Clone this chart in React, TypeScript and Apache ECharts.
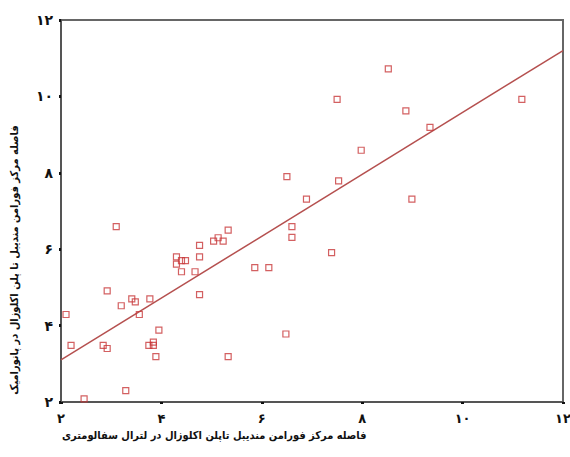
import React, { useEffect, useRef } from "react";
import * as echarts from "echarts";

const xValues = [2.10, 2.20, 2.46, 2.92, 2.84, 2.92, 3.10, 3.20, 3.29, 3.41, 3.48, 3.56, 3.77, 3.75, 3.84, 3.84, 3.89, 3.95, 4.30, 4.30, 4.40, 4.40, 4.48, 4.67, 4.76, 4.76, 4.76, 5.04, 5.13, 5.23, 5.33, 5.33, 5.86, 6.14, 6.48, 6.60, 6.60, 7.39, 6.50, 6.89, 7.53, 7.98, 7.50, 8.52, 8.87, 8.99, 9.35, 11.18];
const yValues = [4.29, 3.48, 2.08, 4.91, 3.48, 3.40, 6.59, 4.52, 2.30, 4.70, 4.62, 4.29, 4.70, 3.48, 3.57, 3.48, 3.19, 3.88, 5.80, 5.61, 5.41, 5.70, 5.70, 5.41, 6.10, 5.80, 4.81, 6.21, 6.30, 6.21, 6.50, 3.19, 5.52, 5.52, 3.78, 6.59, 6.31, 5.91, 7.90, 7.31, 7.79, 8.59, 9.92, 10.72, 9.62, 7.31, 9.19, 9.92];
const fitX = [2, 12];
const fitY = [3.1, 11.2];
const tickLabels: Record<number, string> = { 2: "۲", 4: "۴", 6: "۶", 8: "۸", 10: "۱۰", 12: "۱۲" };
const xTitle = "فاصله مرکز فورامن مندیبل تاپلن اکلوزال در لترال سفالومتری";
const yTitle = "فاصله مرکز فورامن مندیبل تا پلن اکلوزال در پانورامیک";

export default function App() {
  const ref = useRef<HTMLDivElement>(null);
  useEffect(() => {
    if (!ref.current) return;
    const chart = echarts.init(ref.current, null, { renderer: "svg" });
    const font = "'DejaVu Sans', 'Noto Sans', sans-serif";
    const titleFont = "'DejaVu Sans Condensed', 'DejaVu Sans', sans-serif";
    const axisCommon = {
      type: "value" as const,
      min: 2,
      max: 12,
      interval: 2,
      splitLine: { show: false },
      axisLine: { show: true, lineStyle: { color: "#555", width: 2 } },
      axisTick: { show: true, length: 2, lineStyle: { color: "#111", width: 3 } },
      axisLabel: {
        color: "#111",
        fontSize: 14,
        fontWeight: "bold" as const,
        fontFamily: font,
        formatter: (v: number) => tickLabels[v] ?? "",
      },
    };
    chart.setOption({
      animation: false,
      backgroundColor: "#fff",
      grid: {
        left: 61,
        right: 7,
        top: 20,
        bottom: 55,
        show: true,
        borderColor: "#666",
        borderWidth: 2,
        outerBoundsMode: "none",
        containLabel: false,
      },
      xAxis: { ...axisCommon, axisLabel: { ...axisCommon.axisLabel, fontSize: 13, margin: 10 } },
      yAxis: { ...axisCommon, axisLabel: { ...axisCommon.axisLabel, margin: 8 } },
      graphic: [
        {
          type: "text",
          left: 62,
          top: 430,
          style: { text: xTitle, fontSize: 11, fontWeight: "bold", fontFamily: titleFont, fill: "#111" },
        },
        {
          type: "text",
          x: 14,
          y: 260,
          rotation: Math.PI / 2,
          style: {
            text: yTitle,
            fontSize: 11,
            fontWeight: "bold",
            fontFamily: titleFont,
            fill: "#111",
            align: "center",
            verticalAlign: "middle",
          },
        },
      ],
      series: [
        {
          type: "line",
          data: fitX.map((x, i) => [x, fitY[i]]),
          showSymbol: false,
          symbol: "none",
          lineStyle: { color: "#b5504f", width: 1.5 },
          z: 2,
        },
        {
          type: "scatter",
          data: xValues.map((x, i) => [x, yValues[i]]),
          symbol: "rect",
          symbolSize: 6,
          itemStyle: { color: "rgba(255,255,255,0)", borderColor: "#c8383a", borderWidth: 1.2 },
          z: 3,
        },
      ],
    });
    return () => chart.dispose();
  }, []);
  return <div ref={ref} style={{ position: "fixed", left: 0, top: 0, width: 570, height: 457 }} />;
}
